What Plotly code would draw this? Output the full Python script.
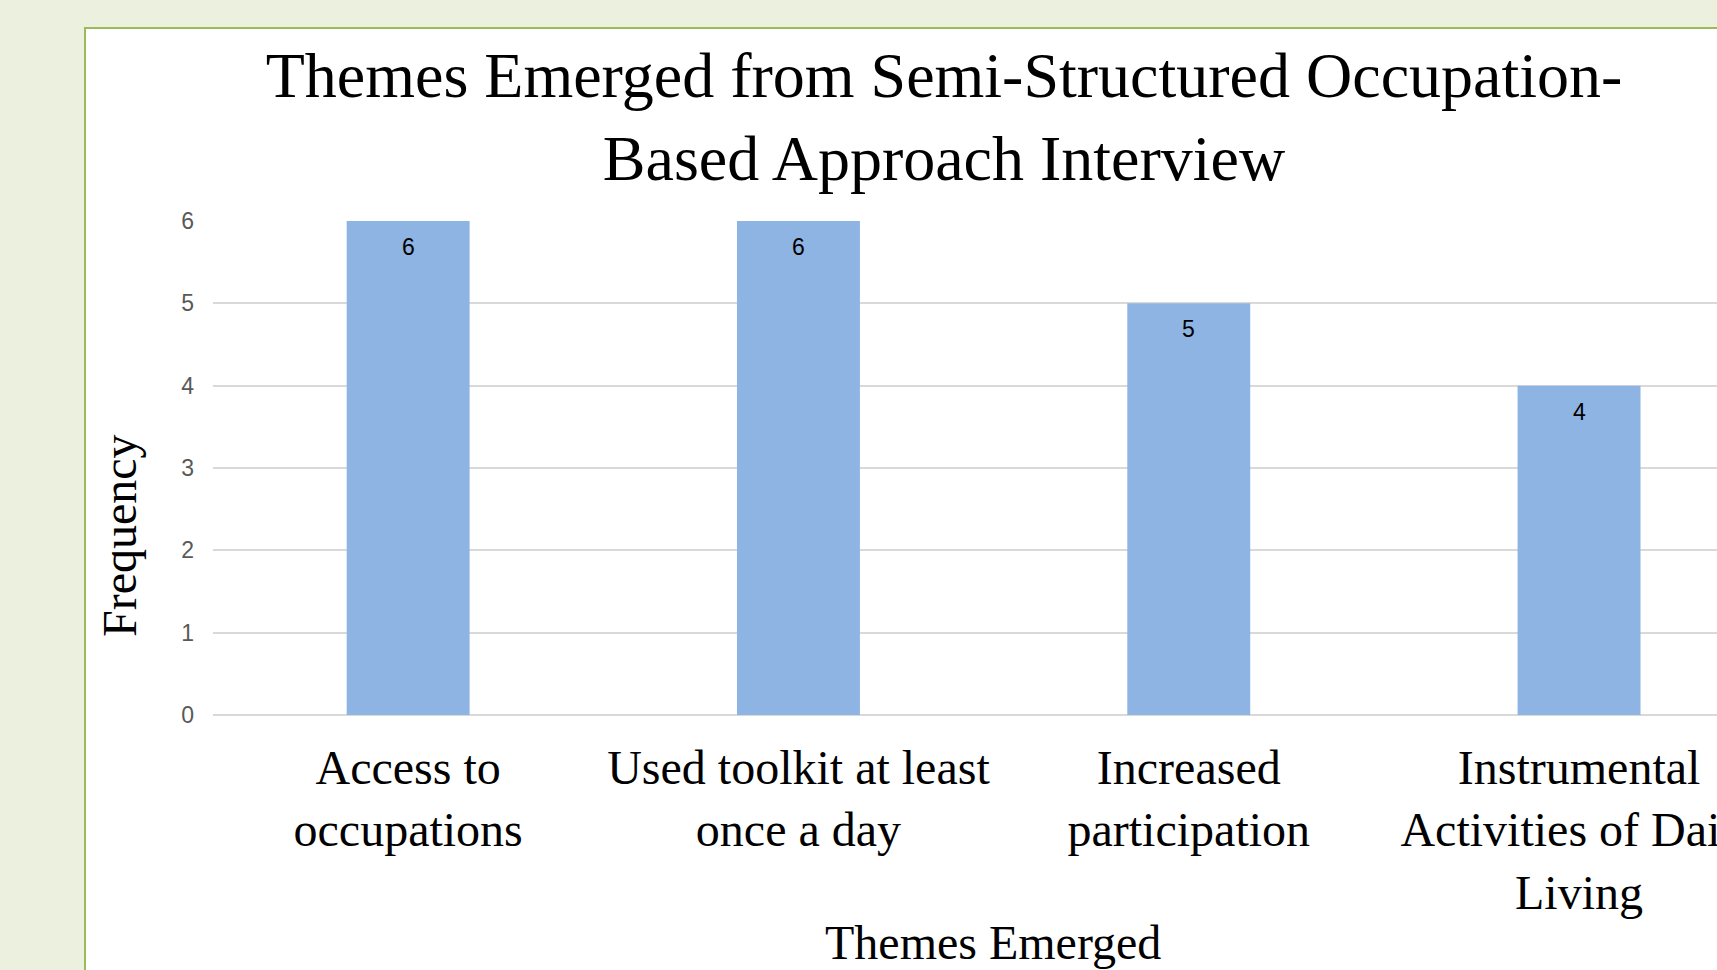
import plotly.graph_objects as go

# Interview themes and how often each came up
themes = [
    "Access to<br>occupations",
    "Used toolkit at least<br>once a day",
    "Increased<br>participation",
    "Instrumental<br>Activities of Daily<br>Living",
]
frequency = [6, 6, 5, 4]
y_ticks = [0, 1, 2, 3, 4, 5, 6]

W, H = 1717, 970
L, R, T, B = 213, 0, 221, 255
plot_w = W - L - R
plot_h = H - T - B
cat_px = 390.3  # width of one category slot


def px_x(x):
    return (x - L) / plot_w


def px_y(y):
    return (H - B - y) / plot_h


serif = "Liberation Serif, Times New Roman, serif"
sans = "Liberation Sans, Arial, sans-serif"

fig = go.Figure(
    go.Bar(
        x=list(range(len(themes))),
        y=frequency,
        width=0.315,
        marker=dict(color="#8EB4E3", line=dict(width=0)),
        hoverinfo="skip",
    )
)

# value labels just inside the top of each bar
for i, v in enumerate(frequency):
    fig.add_annotation(
        x=i, y=v, xref="x", yref="y", text=str(v), showarrow=False,
        yanchor="middle", yshift=-26,
        font=dict(family=sans, size=23, color="#000000"),
    )

# axis titles
fig.add_annotation(
    x=px_x(993), y=px_y(942), xref="paper", yref="paper",
    text="Themes Emerged", showarrow=False, xanchor="center", yanchor="middle",
    font=dict(family=serif, size=48, color="#000000"),
)
fig.add_annotation(
    x=px_x(119), y=px_y(536), xref="paper", yref="paper",
    text="Frequency", showarrow=False, textangle=-90,
    xanchor="center", yanchor="middle",
    font=dict(family=serif, size=48, color="#000000"),
)

# white chart panel with green border
fig.add_shape(
    type="rect", xref="paper", yref="paper", layer="below",
    x0=px_x(85), x1=px_x(W + 200), y0=px_y(H + 200), y1=px_y(28),
    fillcolor="#FFFFFF", line=dict(color="#9BBB59", width=2),
)

fig.update_layout(
    width=W, height=H,
    margin=dict(l=L, r=R, t=T, b=B, autoexpand=False),
    paper_bgcolor="#EBF1DE",
    plot_bgcolor="#FFFFFF",
    showlegend=False,
    title=dict(
        text="Themes Emerged from Semi-Structured Occupation-<br>Based Approach Interview",
        x=px_x(944), xref="paper", xanchor="center",
        y=1 - 97 / H, yref="container", yanchor="top",
        font=dict(family=serif, size=64, color="#000000"),
    ),
    xaxis=dict(
        range=[-0.5, -0.5 + plot_w / cat_px],
        tickmode="array",
        tickvals=list(range(len(themes))),
        ticktext=themes,
        showgrid=False, zeroline=False, showline=False, ticks="",
        ticklabelstandoff=20,
        ticklabeloverflow="allow",
        tickfont=dict(family=serif, size=48, color="#000000"),
        fixedrange=True,
    ),
    yaxis=dict(
        range=[0, 6],
        tickmode="array",
        tickvals=y_ticks,
        showgrid=True, gridcolor="#D9D9D9", gridwidth=1.5,
        zeroline=True, zerolinecolor="#D9D9D9", zerolinewidth=1.5,
        showline=False, ticks="",
        ticklabelstandoff=18,
        tickfont=dict(family=sans, size=23, color="#595959"),
        fixedrange=True,
    ),
)

fig.write_html("out.html")
